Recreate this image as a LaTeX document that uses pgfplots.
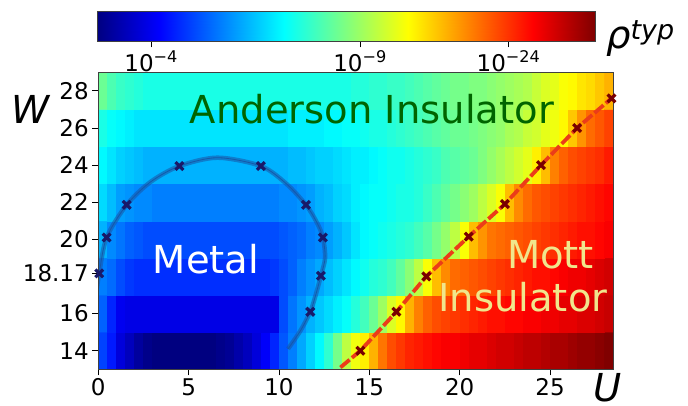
\documentclass[border=0pt]{standalone}
\usepackage{pgfplots}
\pgfplotsset{compat=1.18}
\usepackage{fontspec}
\setmainfont{DejaVu Sans}
\definecolor{metalc}{RGB}{25,85,165}
\definecolor{metalmk}{RGB}{25,25,105}
\definecolor{mottline}{RGB}{235,60,25}
\definecolor{mottmk}{RGB}{120,0,0}
\definecolor{andgreen}{RGB}{0,100,0}
\definecolor{khakic}{RGB}{240,230,140}
\begin{document}
\begin{tikzpicture}[x=1pt,y=1pt]
\useasboundingbox (0,0) rectangle (688,405);
\begin{axis}[
  at={(98.3pt,35.7pt)}, anchor=south west,
  scale only axis, width=515pt, height=297pt,
  xmin=0, xmax=28.5, ymin=13, ymax=29,
  axis on top,
  colormap/jet, point meta min=0, point meta max=1,
  xtick={0,5,10,15,20,25}, xticklabels={0,5,10,15,20,25},
  ytick={14,16,18.17,20,22,24,26,28}, yticklabels={14,16,18.17,20,22,24,26,28},
  tick align=outside, xtick pos=left, ytick pos=left,
  major tick length=6pt,
  tick style={black, line width=0.8pt},
  axis line style={black!75, line width=0.8pt},
  ticklabel style={font=\fontsize{23}{24}\selectfont},
  /pgf/number format/assume math mode=true,
]
\addplot[matrix plot*, mesh/cols=57, point meta=explicit] table[row sep=\\, meta=c] {
x y c\\
0.25 14 0.19\\0.75 14 0.15\\1.25 14 0.09\\1.75 14 0.06\\2.25 14 0.03\\2.75 14 0.01\\3.25 14 0\\3.75 14 0\\4.25 14 0\\4.75 14 0\\
5.25 14 0\\5.75 14 0\\6.25 14 0\\6.75 14 0.01\\7.25 14 0.02\\7.75 14 0.04\\8.25 14 0.06\\8.75 14 0.09\\9.25 14 0.12\\9.75 14 0.16\\
10.25 14 0.21\\10.75 14 0.25\\11.25 14 0.29\\11.75 14 0.33\\12.25 14 0.37\\12.75 14 0.42\\13.25 14 0.49\\13.75 14 0.56\\14.25 14 0.61\\14.75 14 0.64\\
15.25 14 0.7\\15.75 14 0.76\\16.25 14 0.8\\16.75 14 0.82\\17.25 14 0.84\\17.75 14 0.85\\18.25 14 0.86\\18.75 14 0.87\\19.25 14 0.88\\19.75 14 0.88\\
20.25 14 0.89\\20.75 14 0.9\\21.25 14 0.9\\21.75 14 0.91\\22.25 14 0.92\\22.75 14 0.92\\23.25 14 0.93\\23.75 14 0.94\\24.25 14 0.94\\24.75 14 0.95\\
25.25 14 0.96\\25.75 14 0.96\\26.25 14 0.97\\26.75 14 0.98\\27.25 14 0.98\\27.75 14 0.99\\28.25 14 1\\
0.25 16 0.22\\0.75 16 0.16\\1.25 16 0.11\\1.75 16 0.1\\2.25 16 0.1\\2.75 16 0.1\\3.25 16 0.1\\3.75 16 0.1\\4.25 16 0.1\\4.75 16 0.1\\
5.25 16 0.1\\5.75 16 0.1\\6.25 16 0.1\\6.75 16 0.1\\7.25 16 0.1\\7.75 16 0.1\\8.25 16 0.1\\8.75 16 0.1\\9.25 16 0.1\\9.75 16 0.1\\
10.25 16 0.2\\10.75 16 0.24\\11.25 16 0.27\\11.75 16 0.3\\12.25 16 0.32\\12.75 16 0.34\\13.25 16 0.36\\13.75 16 0.38\\14.25 16 0.41\\14.75 16 0.44\\
15.25 16 0.48\\15.75 16 0.53\\16.25 16 0.59\\16.75 16 0.63\\17.25 16 0.7\\17.75 16 0.75\\18.25 16 0.78\\18.75 16 0.8\\19.25 16 0.81\\19.75 16 0.82\\
20.25 16 0.83\\20.75 16 0.84\\21.25 16 0.85\\21.75 16 0.86\\22.25 16 0.86\\22.75 16 0.87\\23.25 16 0.87\\23.75 16 0.88\\24.25 16 0.88\\24.75 16 0.89\\
25.25 16 0.89\\25.75 16 0.9\\26.25 16 0.9\\26.75 16 0.91\\27.25 16 0.91\\27.75 16 0.92\\28.25 16 0.93\\
0.25 18 0.25\\0.75 18 0.23\\1.25 18 0.2\\1.75 18 0.18\\2.25 18 0.17\\2.75 18 0.17\\3.25 18 0.17\\3.75 18 0.17\\4.25 18 0.17\\4.75 18 0.17\\
5.25 18 0.17\\5.75 18 0.17\\6.25 18 0.17\\6.75 18 0.17\\7.25 18 0.17\\7.75 18 0.17\\8.25 18 0.17\\8.75 18 0.17\\9.25 18 0.17\\9.75 18 0.18\\
10.25 18 0.2\\10.75 18 0.22\\11.25 18 0.25\\11.75 18 0.27\\12.25 18 0.29\\12.75 18 0.31\\13.25 18 0.33\\13.75 18 0.35\\14.25 18 0.37\\14.75 18 0.39\\
15.25 18 0.41\\15.75 18 0.42\\16.25 18 0.44\\16.75 18 0.47\\17.25 18 0.51\\17.75 18 0.56\\18.25 18 0.62\\18.75 18 0.69\\19.25 18 0.74\\19.75 18 0.77\\
20.25 18 0.78\\20.75 18 0.79\\21.25 18 0.8\\21.75 18 0.81\\22.25 18 0.82\\22.75 18 0.83\\23.25 18 0.84\\23.75 18 0.85\\24.25 18 0.86\\24.75 18 0.86\\
25.25 18 0.87\\25.75 18 0.88\\26.25 18 0.89\\26.75 18 0.89\\27.25 18 0.9\\27.75 18 0.91\\28.25 18 0.92\\
0.25 20 0.3\\0.75 20 0.26\\1.25 20 0.24\\1.75 20 0.22\\2.25 20 0.21\\2.75 20 0.2\\3.25 20 0.2\\3.75 20 0.2\\4.25 20 0.2\\4.75 20 0.2\\
5.25 20 0.2\\5.75 20 0.2\\6.25 20 0.2\\6.75 20 0.2\\7.25 20 0.2\\7.75 20 0.2\\8.25 20 0.2\\8.75 20 0.2\\9.25 20 0.2\\9.75 20 0.2\\
10.25 20 0.21\\10.75 20 0.22\\11.25 20 0.23\\11.75 20 0.25\\12.25 20 0.26\\12.75 20 0.28\\13.25 20 0.3\\13.75 20 0.32\\14.25 20 0.35\\14.75 20 0.37\\
15.25 20 0.38\\15.75 20 0.39\\16.25 20 0.4\\16.75 20 0.41\\17.25 20 0.42\\17.75 20 0.44\\18.25 20 0.46\\18.75 20 0.49\\19.25 20 0.52\\19.75 20 0.56\\
20.25 20 0.62\\20.75 20 0.69\\21.25 20 0.73\\21.75 20 0.76\\22.25 20 0.77\\22.75 20 0.78\\23.25 20 0.79\\23.75 20 0.8\\24.25 20 0.81\\24.75 20 0.82\\
25.25 20 0.83\\25.75 20 0.84\\26.25 20 0.85\\26.75 20 0.86\\27.25 20 0.86\\27.75 20 0.87\\28.25 20 0.88\\
0.25 22 0.34\\0.75 22 0.31\\1.25 22 0.28\\1.75 22 0.27\\2.25 22 0.26\\2.75 22 0.26\\3.25 22 0.25\\3.75 22 0.25\\4.25 22 0.25\\4.75 22 0.25\\
5.25 22 0.25\\5.75 22 0.25\\6.25 22 0.25\\6.75 22 0.25\\7.25 22 0.25\\7.75 22 0.25\\8.25 22 0.25\\8.75 22 0.25\\9.25 22 0.25\\9.75 22 0.25\\
10.25 22 0.26\\10.75 22 0.26\\11.25 22 0.27\\11.75 22 0.28\\12.25 22 0.3\\12.75 22 0.31\\13.25 22 0.33\\13.75 22 0.34\\14.25 22 0.36\\14.75 22 0.37\\
15.25 22 0.38\\15.75 22 0.38\\16.25 22 0.39\\16.75 22 0.4\\17.25 22 0.4\\17.75 22 0.41\\18.25 22 0.43\\18.75 22 0.45\\19.25 22 0.47\\19.75 22 0.49\\
20.25 22 0.51\\20.75 22 0.53\\21.25 22 0.56\\21.75 22 0.59\\22.25 22 0.62\\22.75 22 0.69\\23.25 22 0.74\\23.75 22 0.77\\24.25 22 0.79\\24.75 22 0.8\\
25.25 22 0.81\\25.75 22 0.82\\26.25 22 0.83\\26.75 22 0.84\\27.25 22 0.85\\27.75 22 0.86\\28.25 22 0.87\\
0.25 24 0.37\\0.75 24 0.35\\1.25 24 0.33\\1.75 24 0.32\\2.25 24 0.31\\2.75 24 0.3\\3.25 24 0.3\\3.75 24 0.3\\4.25 24 0.3\\4.75 24 0.3\\
5.25 24 0.3\\5.75 24 0.3\\6.25 24 0.3\\6.75 24 0.3\\7.25 24 0.3\\7.75 24 0.3\\8.25 24 0.3\\8.75 24 0.3\\9.25 24 0.3\\9.75 24 0.3\\
10.25 24 0.3\\10.75 24 0.31\\11.25 24 0.31\\11.75 24 0.32\\12.25 24 0.33\\12.75 24 0.33\\13.25 24 0.34\\13.75 24 0.35\\14.25 24 0.36\\14.75 24 0.36\\
15.25 24 0.37\\15.75 24 0.38\\16.25 24 0.39\\16.75 24 0.39\\17.25 24 0.4\\17.75 24 0.41\\18.25 24 0.42\\18.75 24 0.43\\19.25 24 0.45\\19.75 24 0.46\\
20.25 24 0.47\\20.75 24 0.48\\21.25 24 0.5\\21.75 24 0.52\\22.25 24 0.54\\22.75 24 0.56\\23.25 24 0.58\\23.75 24 0.6\\24.25 24 0.64\\24.75 24 0.69\\
25.25 24 0.75\\25.75 24 0.78\\26.25 24 0.8\\26.75 24 0.81\\27.25 24 0.82\\27.75 24 0.83\\28.25 24 0.85\\
0.25 26 0.4\\0.75 26 0.38\\1.25 26 0.37\\1.75 26 0.36\\2.25 26 0.35\\2.75 26 0.35\\3.25 26 0.35\\3.75 26 0.35\\4.25 26 0.35\\4.75 26 0.35\\
5.25 26 0.35\\5.75 26 0.35\\6.25 26 0.35\\6.75 26 0.35\\7.25 26 0.35\\7.75 26 0.35\\8.25 26 0.35\\8.75 26 0.35\\9.25 26 0.35\\9.75 26 0.35\\
10.25 26 0.35\\10.75 26 0.36\\11.25 26 0.36\\11.75 26 0.36\\12.25 26 0.36\\12.75 26 0.37\\13.25 26 0.37\\13.75 26 0.38\\14.25 26 0.38\\14.75 26 0.39\\
15.25 26 0.4\\15.75 26 0.4\\16.25 26 0.41\\16.75 26 0.42\\17.25 26 0.43\\17.75 26 0.44\\18.25 26 0.45\\18.75 26 0.46\\19.25 26 0.47\\19.75 26 0.48\\
20.25 26 0.48\\20.75 26 0.49\\21.25 26 0.5\\21.75 26 0.51\\22.25 26 0.52\\22.75 26 0.54\\23.25 26 0.55\\23.75 26 0.57\\24.25 26 0.58\\24.75 26 0.6\\
25.25 26 0.61\\25.75 26 0.63\\26.25 26 0.68\\26.75 26 0.73\\27.25 26 0.77\\27.75 26 0.79\\28.25 26 0.81\\
0.25 28 0.48\\0.75 28 0.45\\1.25 28 0.43\\1.75 28 0.42\\2.25 28 0.41\\2.75 28 0.4\\3.25 28 0.4\\3.75 28 0.4\\4.25 28 0.4\\4.75 28 0.4\\
5.25 28 0.4\\5.75 28 0.4\\6.25 28 0.4\\6.75 28 0.4\\7.25 28 0.4\\7.75 28 0.4\\8.25 28 0.4\\8.75 28 0.4\\9.25 28 0.4\\9.75 28 0.4\\
10.25 28 0.4\\10.75 28 0.4\\11.25 28 0.4\\11.75 28 0.4\\12.25 28 0.4\\12.75 28 0.4\\13.25 28 0.4\\13.75 28 0.4\\14.25 28 0.41\\14.75 28 0.41\\
15.25 28 0.42\\15.75 28 0.42\\16.25 28 0.43\\16.75 28 0.43\\17.25 28 0.44\\17.75 28 0.45\\18.25 28 0.46\\18.75 28 0.47\\19.25 28 0.48\\19.75 28 0.49\\
20.25 28 0.49\\20.75 28 0.5\\21.25 28 0.5\\21.75 28 0.51\\22.25 28 0.52\\22.75 28 0.53\\23.25 28 0.54\\23.75 28 0.55\\24.25 28 0.57\\24.75 28 0.59\\
25.25 28 0.6\\25.75 28 0.62\\26.25 28 0.63\\26.75 28 0.65\\27.25 28 0.66\\27.75 28 0.68\\28.25 28 0.7\\
};
\addplot[metalc, opacity=0.55, line width=4.5pt, smooth, tension=0.5] coordinates {
(-0.1,17.2) (0.05,18.17) (0.46,20.1) (1.57,21.86) (2.9,23.1) (4.49,23.95) (6.6,24.4) (9.0,23.95) (10.4,23.0) (11.49,21.86) (12.1,20.9) (12.43,20.1) (12.55,19.0) (12.32,18.04) (12.0,16.9) (11.73,16.1) (11.2,15.1) (10.5,14.1)};
\addplot[metalc, opacity=0.9, line width=0.8pt, smooth, tension=0.5] coordinates {
(-0.1,17.2) (0.05,18.17) (0.46,20.1) (1.57,21.86) (2.9,23.1) (4.49,23.95) (6.6,24.4) (9.0,23.95) (10.4,23.0) (11.49,21.86) (12.1,20.9) (12.43,20.1) (12.55,19.0) (12.32,18.04) (12.0,16.9) (11.73,16.1) (11.2,15.1) (10.5,14.1)};
\addplot[mottline, line width=3.8pt, dash pattern=on 12pt off 3pt] coordinates {
(13.4,13.1) (14.5,14) (16.5,16.1) (18.15,18) (20.5,20.15) (22.5,21.9) (24.5,24) (26.5,26) (28.4,27.6)};
\addplot[only marks, mark=x, mark size=5.5pt, metalmk, mark options={line width=3.2pt, solid}] coordinates {
(0.05,18.17) (0.46,20.1) (1.57,21.86) (4.49,23.95) (9.0,23.95) (11.49,21.86) (12.43,20.1) (12.32,18.04) (11.73,16.1)};
\addplot[only marks, mark=x, mark size=5.5pt, mottmk, mark options={line width=3.2pt, solid}] coordinates {
(14.5,14) (16.5,16.1) (18.15,18) (20.5,20.15) (22.5,21.9) (24.5,24) (26.5,26) (28.4,27.6)};
\node[anchor=base, text=andgreen, font=\fontsize{38.5}{40}\selectfont] at (axis cs:15.14,26.25) {Anderson Insulator};
\node[anchor=base, text=white, font=\fontsize{38.5}{40}\selectfont] at (axis cs:5.96,18.17) {Metal};
\node[anchor=base, text=khakic, font=\fontsize{38.5}{40}\selectfont] at (axis cs:25.03,18.44) {Mott};
\node[anchor=base, text=khakic, font=\fontsize{38.5}{40}\selectfont] at (axis cs:23.5,16.1) {Insulator};
\end{axis}
% colour bar
\begin{axis}[
  at={(96.9pt,363.7pt)}, anchor=south west,
  scale only axis, width=498.3pt, height=29.4pt,
  xmin=0, xmax=1, ymin=0, ymax=1,
  axis on top,
  colormap/jet, point meta min=0, point meta max=1,
  ytick=\empty,
  xtick={0.109,0.528,0.826},
  xticklabels={10\textsuperscript{−4},10\textsuperscript{−9},10\textsuperscript{−24}},
  tick align=outside, xtick pos=left,
  major tick length=6pt,
  tick style={black, line width=0.8pt},
  axis line style={black!75, line width=0.8pt},
  ticklabel style={font=\fontsize{23}{24}\selectfont},
]
\addplot[surf, shader=interp, mesh/cols=6, point meta=explicit] table[row sep=\\, meta=c] {
x y c\\
0 0 0\\0.125 0 0.125\\0.375 0 0.375\\0.625 0 0.625\\0.875 0 0.875\\1 0 1\\
0 1 0\\0.125 1 0.125\\0.375 1 0.375\\0.625 1 0.625\\0.875 1 0.875\\1 1 1\\
};
\end{axis}
\node[anchor=base west, inner sep=0pt, font=\fontsize{38.5}{40}\selectfont\itshape] at (11.7,281.7) {W};
\node[anchor=base, inner sep=0pt, font=\fontsize{38.5}{40}\selectfont\itshape] at (608,3.7) {U};
\node[anchor=base west, inner sep=0pt, font=\fontsize{38.5}{40}\selectfont\itshape] at (606,356) {ρ\textsuperscript{typ}};
\end{tikzpicture}
\end{document}
